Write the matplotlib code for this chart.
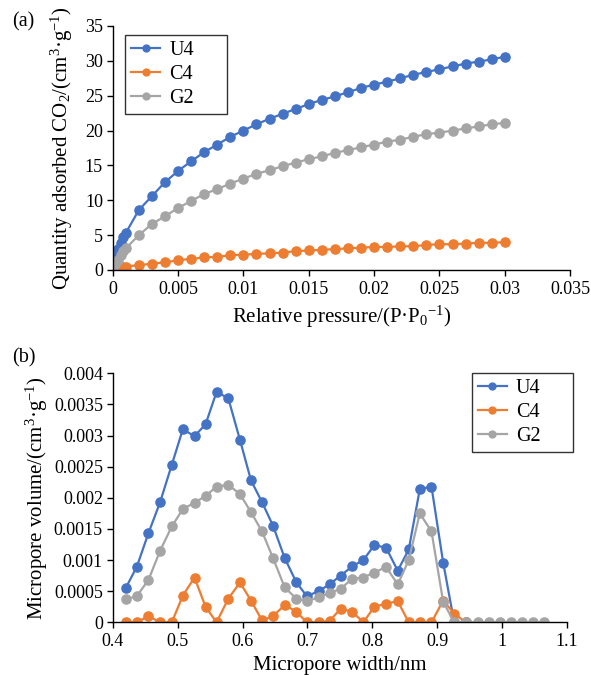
import matplotlib
matplotlib.use("Agg")
import matplotlib.pyplot as plt

plt.rcParams['font.family'] = ['Liberation Serif', 'DejaVu Serif']
plt.rcParams['mathtext.fontset'] = 'custom'
plt.rcParams['mathtext.rm'] = 'Liberation Serif'
plt.rcParams['mathtext.it'] = 'Liberation Serif:italic'

# ---------- (a) CO2 adsorption isotherms ----------
p_rel = [0.00005, 0.0002, 0.0004, 0.0006, 0.0008, 0.001, 0.002, 0.003, 0.004, 0.005,
         0.006, 0.007, 0.008, 0.009, 0.010, 0.011, 0.012, 0.013, 0.014, 0.015,
         0.016, 0.017, 0.018, 0.019, 0.020, 0.021, 0.022, 0.023, 0.024, 0.025,
         0.026, 0.027, 0.028, 0.029, 0.030]
u4_ads = [0.4, 1.8, 3.0, 3.9, 4.7, 5.3, 8.6, 10.6, 12.6, 14.2,
          15.6, 16.9, 18.0, 19.1, 20.0, 20.9, 21.7, 22.4, 23.1, 23.8,
          24.4, 24.9, 25.5, 26.1, 26.6, 27.0, 27.5, 28.0, 28.4, 28.8,
          29.2, 29.6, 29.9, 30.2, 30.6]
c4_ads = [0.05, 0.15, 0.25, 0.35, 0.42, 0.5, 0.7, 0.9, 1.1, 1.4,
          1.6, 1.8, 1.9, 2.1, 2.2, 2.3, 2.4, 2.5, 2.7, 2.8,
          2.9, 3.0, 3.1, 3.2, 3.3, 3.3, 3.4, 3.4, 3.6, 3.7,
          3.7, 3.8, 3.9, 3.9, 4.0]
g2_ads = [0.2, 0.9, 1.5, 2.1, 2.7, 3.1, 5.0, 6.6, 7.7, 8.9,
          9.9, 10.9, 11.6, 12.4, 13.1, 13.8, 14.3, 14.9, 15.4, 15.9,
          16.3, 16.8, 17.2, 17.6, 18.0, 18.4, 18.7, 19.1, 19.5, 19.7,
          20.0, 20.3, 20.6, 20.9, 21.1]
xticks_a = [0, 0.005, 0.01, 0.015, 0.02, 0.025, 0.03, 0.035]
xtick_labels_a = ['0', '0.005', '0.01', '0.015', '0.02', '0.025', '0.03', '0.035']
yticks_a = [0, 5, 10, 15, 20, 25, 30, 35]

# ---------- (b) micropore size distribution ----------
width_nm = [0.420, 0.437, 0.455, 0.473, 0.491, 0.508, 0.526, 0.543, 0.560, 0.578,
            0.596, 0.613, 0.630, 0.647, 0.665, 0.683, 0.699, 0.717, 0.734, 0.751,
            0.769, 0.786, 0.803, 0.821, 0.839, 0.856, 0.873, 0.891, 0.909, 0.926,
            0.944, 0.962, 0.979, 0.997, 1.014, 1.031, 1.048, 1.065]
u4_vol = [0.00055, 0.00089, 0.00143, 0.00193, 0.00253, 0.00310, 0.00299, 0.00318, 0.00370, 0.00360,
          0.00293, 0.00228, 0.00193, 0.00155, 0.00103, 0.00064, 0.00042, 0.00050, 0.00061, 0.00075,
          0.00090, 0.00100, 0.00124, 0.00120, 0.00083, 0.00117, 0.00214, 0.00218, 0.00096, 0.0,
          0.0]
c4_vol = [0.0, 0.0, 0.00010, 0.0, 0.0, 0.00043, 0.00072, 0.00025, 0.0, 0.00038,
          0.00064, 0.00035, 0.00003, 0.00010, 0.00028, 0.00017, 0.0, 0.0, 0.00002, 0.00022,
          0.00017, 0.0, 0.00025, 0.00030, 0.00034, 0.0, 0.0, 0.0, 0.00035, 0.00014,
          0.0]
g2_vol = [0.00037, 0.00042, 0.00068, 0.00115, 0.00154, 0.00182, 0.00192, 0.00203, 0.00218, 0.00221,
          0.00206, 0.00177, 0.00146, 0.00103, 0.00056, 0.00038, 0.00034, 0.00040, 0.00047, 0.00054,
          0.00070, 0.00072, 0.00080, 0.00089, 0.00061, 0.00100, 0.00175, 0.00146, 0.00033, 0.0,
          0.0, 0.0, 0.0, 0.0, 0.0, 0.0, 0.0, 0.0]
xticks_b = [0.4, 0.5, 0.6, 0.7, 0.8, 0.9, 1.0, 1.1]
xtick_labels_b = ['0.4', '0.5', '0.6', '0.7', '0.8', '0.9', '1', '1.1']
yticks_b = [0, 0.0005, 0.001, 0.0015, 0.002, 0.0025, 0.003, 0.0035, 0.004]
ytick_labels_b = ['0', '0.0005', '0.001', '0.0015', '0.002', '0.0025', '0.003', '0.0035', '0.004']

series_names = ['U4', 'C4', 'G2']
colors = ['#4472C4', '#ED7D31', '#A5A5A5']

fig = plt.figure(figsize=(5.91, 6.75), dpi=100)
ax1 = fig.add_axes([0.1907, 0.600, 0.774, 0.3615])
ax2 = fig.add_axes([0.1907, 0.078, 0.769, 0.369])

def style(ax):
    for s in ['top', 'right']:
        ax.spines[s].set_visible(False)
    for s in ['left', 'bottom']:
        ax.spines[s].set_color('black')
        ax.spines[s].set_linewidth(1.0)
    ax.tick_params(direction='out', length=4, width=1.0, labelsize=13, colors='black', pad=3)
    ax.tick_params(axis='x', pad=4)

mk = dict(marker='o', markersize=6.6, linewidth=1.6)
leg_kw = dict(loc='upper left', mode='expand', fontsize=14.5, frameon=True, fancybox=False,
              edgecolor='black', handlelength=1.45, borderpad=0.3, labelspacing=0.25,
              handletextpad=0.45, borderaxespad=0.0, markerscale=0.75)

for ys, c, n in zip([u4_ads, c4_ads, g2_ads], colors, series_names):
    ax1.plot(p_rel, ys, color=c, label=n, **mk)
ax1.set_xlim(0, 0.035)
ax1.set_ylim(0, 35)
ax1.set_xticks(xticks_a)
ax1.set_xticklabels(xtick_labels_a)
ax1.set_yticks(yticks_a)
style(ax1)
ax1.set_xlabel('Relative pressure/(P·P$_0$$^{-1}$)', fontsize=15, labelpad=4)
ax1.set_ylabel('Quantity adsorbed CO$_2$/(cm$^3$·g$^{-1}$)', fontsize=15, labelpad=7)
leg1 = ax1.legend(bbox_to_anchor=(0.027, 0.635, 0.222, 0.328), **leg_kw)
leg1.get_frame().set_linewidth(1.0)

for xs, ys, c, n in zip([width_nm[:len(u4_vol)], width_nm[:len(c4_vol)], width_nm],
                        [u4_vol, c4_vol, g2_vol], colors, series_names):
    ax2.plot(xs, ys, color=c, label=n, **mk)
ax2.set_xlim(0.4, 1.1)
ax2.set_ylim(0, 0.004)
ax2.set_xticks(xticks_b)
ax2.set_xticklabels(xtick_labels_b)
ax2.set_yticks(yticks_b)
ax2.set_yticklabels(ytick_labels_b)
style(ax2)
ax2.set_xlabel('Micropore width/nm', fontsize=15, labelpad=4)
ax2.set_ylabel('Micropore volume/(cm$^3$·g$^{-1}$)', fontsize=15, labelpad=3)
leg2 = ax2.legend(bbox_to_anchor=(0.79, 0.689, 0.222, 0.313), **leg_kw)
leg2.get_frame().set_linewidth(1.0)

fig.text(0.02, 0.968, '(a)', fontsize=14.5, va='center', ha='left')
fig.text(0.02, 0.470, '(b)', fontsize=14.5, va='center', ha='left')

fig.savefig('out.png', dpi=100)
